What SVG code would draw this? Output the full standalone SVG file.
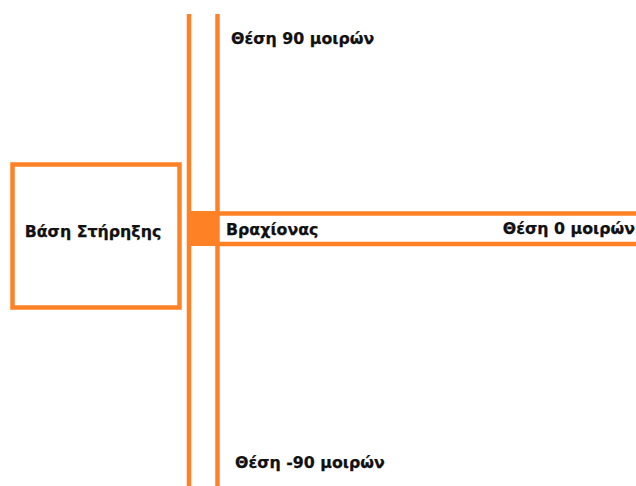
<svg xmlns="http://www.w3.org/2000/svg" width="636" height="486" viewBox="0 0 636 486">
  <style>
    .ln { stroke: #ff8126; stroke-width: 4.5; fill: none; }
    .lbl { font-family: "DejaVu Sans", "Liberation Sans", sans-serif; font-weight: bold; font-size: 15.8px; fill: #111; stroke: #111; stroke-width: 0.25; }
  </style>
  <rect width="636" height="486" fill="#fff"/>

  <g id="connectors">
    <!-- vertical rails -->
    <line class="ln" x1="189" y1="14" x2="189" y2="486"/>
    <line class="ln" x1="217.5" y1="14" x2="217.5" y2="486"/>
    <!-- arm rails -->
    <line class="ln" x1="217" y1="213.5" x2="636" y2="213.5"/>
    <line class="ln" x1="217" y1="244" x2="636" y2="244"/>
  </g>

  <g id="base">
    <rect class="ln" x="12.5" y="164.5" width="167" height="143" stroke-width="5"/>
    <text class="lbl" x="93" y="237" text-anchor="middle">Βάση Στήρηξης</text>
  </g>

  <g id="joint">
    <rect x="187" y="211" width="32" height="35" fill="#ff8126"/>
  </g>

  <g id="arm">
    <text class="lbl" x="226" y="235">Βραχίονας</text>
    <text class="lbl" x="635" y="234" text-anchor="end">Θέση 0 μοιρών</text>
  </g>

  <g id="pos90">
    <text class="lbl" x="231" y="44">Θέση 90 μοιρών</text>
  </g>

  <g id="posm90">
    <text class="lbl" x="235" y="468">Θέση -90 μοιρών</text>
  </g>
</svg>
